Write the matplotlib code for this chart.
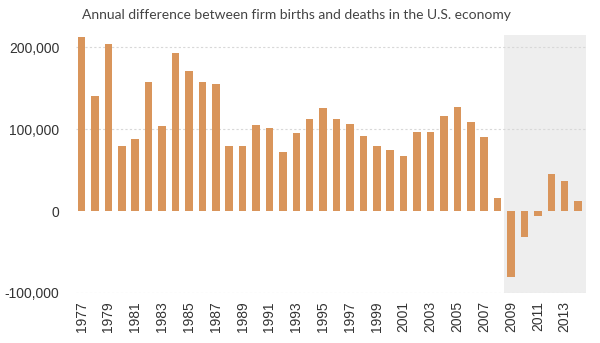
import matplotlib
matplotlib.use("Agg")
import matplotlib.pyplot as plt
from matplotlib.ticker import FuncFormatter

# firm births minus deaths
years = list(range(1977, 2015))
net_firms = [
    213000, 141000, 204000, 79000, 88000, 158000, 104000, 193000, 171000, 157000,
    155000, 80000, 80000, 105000, 101000, 72000, 95000, 113000, 126000, 113000,
    106000, 92000, 79000, 75000, 67000, 96000, 96000, 116000, 127000, 109000,
    90000, 16000, -80000, -32000, -6000, 45000, 37000, 12000,
]
recession_span = (2008.5, 2014.6)

bar_color = "#D9955B"
text_color = "#333333"

fig = plt.figure(figsize=(6, 3.43), dpi=100)
ax = fig.add_axes([0.127, 0.146, 0.85, 0.752])

ax.axvspan(*recession_span, color="#EEEEEE", zorder=0, lw=0)
for y in (200000, 100000, -100000):
    ax.axhline(y, color="#D8D8D8", lw=0.8, ls=(0, (2, 2)), zorder=1)
ax.bar(years, net_firms, width=0.56, color=bar_color, zorder=2)

ax.set_xlim(1976.6, 2014.6)
ax.set_ylim(-100000, 215000)
ax.set_yticks([-100000, 0, 100000, 200000])
ax.yaxis.set_major_formatter(FuncFormatter(lambda v, _: f"{int(v):,}"))
ax.set_xticks(years[::2])
ax.set_xticklabels([str(y) for y in years[::2]], rotation=90)

for s in ax.spines.values():
    s.set_visible(False)
ax.tick_params(length=0, labelsize=10, labelcolor=text_color)
ax.tick_params(axis="y", pad=12)
ax.tick_params(axis="x", pad=6)
for lab in ax.get_xticklabels() + ax.get_yticklabels():
    lab.set_family("Liberation Sans")

fig.text(0.137, 0.955, "Annual difference between firm births and deaths in the U.S. economy",
         fontsize=10, color="#444444", family="Lato", va="center")

fig.savefig("out.png", dpi=100)
